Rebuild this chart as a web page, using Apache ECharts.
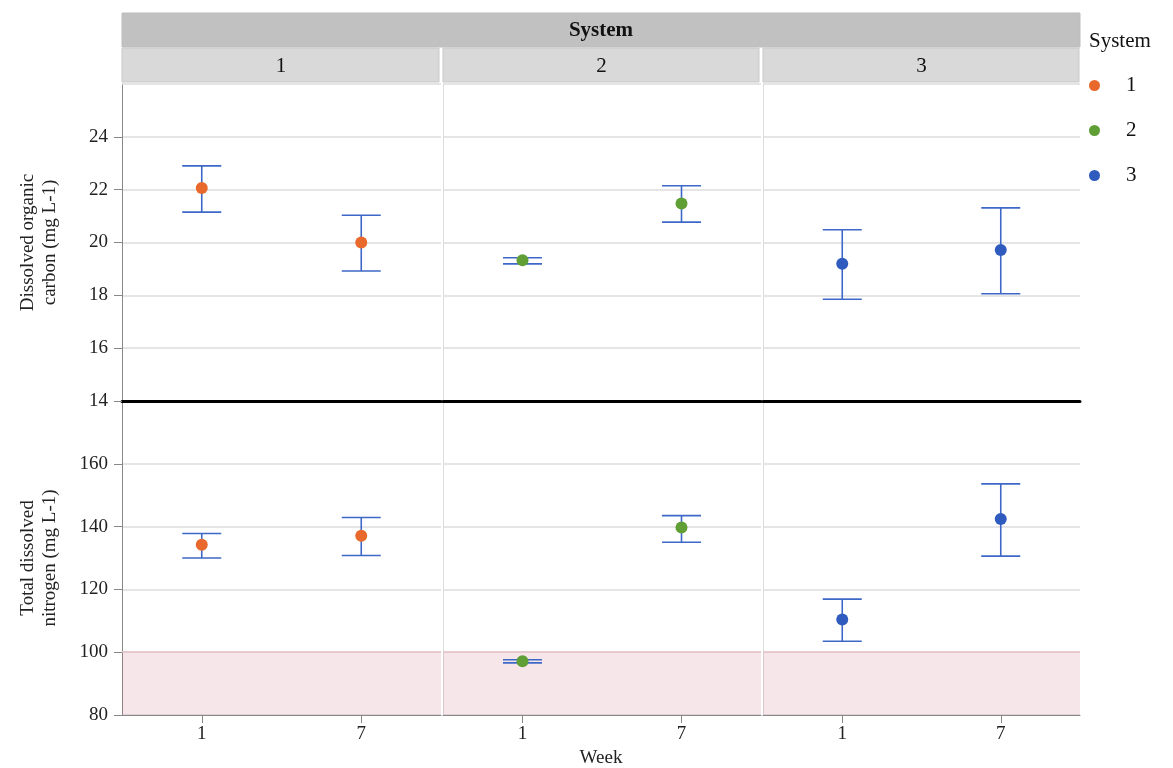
<!DOCTYPE html>
<html>
<head>
<meta charset="utf-8">
<title>Dissolved organic carbon and total dissolved nitrogen by system and week</title>
<script src="https://cdn.jsdelivr.net/npm/echarts@6/dist/echarts.min.js"></script>
<style>
  html, body { margin: 0; padding: 0; background: #ffffff; }
  #chart { width: 1173px; height: 768px; }
</style>
</head>
<body>
<div id="chart"></div>
<script>
// Categories
const weeks = ['1', '7'];
const systems = ['1', '2', '3'];

// Dissolved organic carbon (mg L-1): per system, values for week 1 and week 7
const docMean  = [[22.06, 20.00], [19.33, 21.48], [19.20, 19.72]];
const docLower = [[21.15, 18.92], [19.19, 20.77], [17.85, 18.06]];
const docUpper = [[22.90, 21.03], [19.42, 22.15], [20.48, 21.31]];

// Total dissolved nitrogen (mg L-1)
const tdnMean  = [[134.2, 137.1], [97.1, 139.7], [110.4, 142.4]];
const tdnLower = [[130.0, 130.8], [96.6, 135.0], [103.5, 130.6]];
const tdnUpper = [[137.8, 142.9], [97.6, 143.5], [116.9, 153.6]];

// Axis ticks
const docTicks = [14, 16, 18, 20, 22, 24];
const tdnTicks = [80, 100, 120, 140, 160];
const docRange = [14, 26];
const tdnRange = [80, 180];
const tdnBand = [80, 100];

const systemColors = ['#e8692b', '#5f9f35', '#2f5bbf'];
const barColor = '#3d68c7';
const FONT = '"Liberation Serif", "DejaVu Serif", serif';

const colLeft = [122, 443, 763];
const colWidth = [319, 318, 317];
const rowTop = [84, 401];
const rowHeight = [317, 314];

const grids = [], xAxes = [], yAxes = [], series = [];

function errorBarRender(params, api) {
  const x = api.value(0);
  const lo = api.coord([x, api.value(1)]);
  const hi = api.coord([x, api.value(2)]);
  const half = 19.5;
  const style = { stroke: barColor, lineWidth: 1.6 };
  return {
    type: 'group',
    children: [
      { type: 'line', shape: { x1: lo[0], y1: lo[1], x2: hi[0], y2: hi[1] }, style },
      { type: 'line', shape: { x1: lo[0] - half, y1: lo[1], x2: lo[0] + half, y2: lo[1] }, style },
      { type: 'line', shape: { x1: hi[0] - half, y1: hi[1], x2: hi[0] + half, y2: hi[1] }, style }
    ]
  };
}

const rows = [
  { mean: docMean, lower: docLower, upper: docUpper, range: docRange, ticks: docTicks,
    name: 'Dissolved organic\ncarbon (mg L-1)' },
  { mean: tdnMean, lower: tdnLower, upper: tdnUpper, range: tdnRange, ticks: tdnTicks,
    name: 'Total dissolved\nnitrogen (mg L-1)' }
];

rows.forEach((row, r) => {
  systems.forEach((sys, c) => {
    const idx = grids.length;
    grids.push({ left: colLeft[c], top: rowTop[r], width: colWidth[c], height: rowHeight[r], containLabel: false });

    const isBottom = r === 1;
    xAxes.push({
      type: 'category',
      gridIndex: idx,
      data: weeks,
      boundaryGap: true,
      axisLine: isBottom
        ? { show: true, lineStyle: { color: '#888888', width: 1 } }
        : { show: true, lineStyle: { color: '#000000', width: 3 } },
      axisTick: { show: isBottom, alignWithLabel: true, length: 8, lineStyle: { color: '#888888' } },
      axisLabel: { show: isBottom, fontFamily: FONT, fontSize: 19, color: '#222222', margin: 10 },
      splitLine: { show: false }
    });

    yAxes.push({
      type: 'value',
      gridIndex: idx,
      min: row.range[0],
      max: row.range[1],
      interval: r === 0 ? 2 : 20,
      name: c === 0 ? row.name : '',
      nameLocation: 'middle',
      nameRotate: 90,
      nameGap: 61,
      nameTextStyle: { fontFamily: FONT, fontSize: 19, color: '#222222', lineHeight: 22, align: 'center' },
      axisLine: { show: true, lineStyle: { color: c === 0 ? '#888888' : '#dddddd', width: 1 } },
      axisTick: { show: c === 0, length: 8, lineStyle: { color: '#888888' }, customValues: row.ticks },
      axisLabel: { show: c === 0, fontFamily: FONT, fontSize: 19, color: '#222222', margin: 14, customValues: row.ticks },
      splitLine: { show: true, lineStyle: { color: '#dddddd', width: 1.5 } }
    });

    const bars = weeks.map((w, i) => [i, row.lower[c][i], row.upper[c][i]]);
    const errSeries = {
      type: 'custom',
      name: sys + '-err',
      xAxisIndex: idx,
      yAxisIndex: idx,
      renderItem: errorBarRender,
      encode: { x: 0, y: [1, 2] },
      data: bars,
      z: 3,
      silent: true
    };
    if (isBottom) {
      errSeries.markArea = {
        silent: true,
        itemStyle: { color: 'rgba(205,105,122,0.17)', borderWidth: 0 },
        data: [[{ yAxis: tdnBand[0] }, { yAxis: tdnBand[1] }]]
      };
      errSeries.markLine = {
        silent: true,
        symbol: 'none',
        label: { show: false },
        lineStyle: { color: '#e6c3c9', type: 'solid', width: 1.5 },
        data: [{ yAxis: tdnBand[1] }]
      };
    } else {
      // light rule along the top edge of the upper panels
      errSeries.markLine = {
        silent: true,
        symbol: 'none',
        label: { show: false },
        lineStyle: { color: '#dddddd', type: 'solid', width: 1.5 },
        data: [{ yAxis: row.range[1] }]
      };
    }
    series.push(errSeries);

    series.push({
      type: 'scatter',
      name: sys,
      xAxisIndex: idx,
      yAxisIndex: idx,
      symbol: 'circle',
      symbolSize: 12,
      itemStyle: { color: systemColors[c], opacity: 1 },
      data: weeks.map((w, i) => [i, row.mean[c][i]]),
      z: 5
    });
  });
});

const headerChildren = [
  { type: 'rect', shape: { x: 122, y: 13, width: 958, height: 34 },
    style: { fill: '#c1c1c1', stroke: '#bdbdbd', lineWidth: 1 } },
  { type: 'text', x: 601, y: 31,
    style: { text: 'System', fill: '#111111', font: 'bold 21px ' + FONT, textAlign: 'center', textVerticalAlign: 'middle' } }
];
const stripX = [122, 443, 763], stripW = [318, 317, 317];
systems.forEach((s, c) => {
  headerChildren.push({ type: 'rect', shape: { x: stripX[c], y: 48, width: stripW[c] - 1, height: 34 },
    style: { fill: '#d9d9d9', stroke: '#c9c9c9', lineWidth: 1 } });
  headerChildren.push({ type: 'text', x: stripX[c] + stripW[c] / 2, y: 66,
    style: { text: s, fill: '#111111', font: '21px ' + FONT, textAlign: 'center', textVerticalAlign: 'middle' } });
});
headerChildren.push({ type: 'text', x: 601, y: 758,
  style: { text: 'Week', fill: '#222222', font: '19px ' + FONT, textAlign: 'center', textVerticalAlign: 'middle' } });
headerChildren.push({ type: 'text', x: 1089, y: 41,
  style: { text: 'System', fill: '#111111', font: '21px ' + FONT, textAlign: 'left', textVerticalAlign: 'middle' } });

const chart = echarts.init(document.getElementById('chart'), null, { renderer: 'canvas' });
chart.setOption({
  backgroundColor: '#ffffff',
  animation: false,
  grid: grids,
  xAxis: xAxes,
  yAxis: yAxes,
  legend: {
    orient: 'vertical',
    left: 1089,
    top: 75,
    padding: 0,
    data: systems.map((s, c) => ({ name: s, itemStyle: { color: systemColors[c] } })),
    icon: 'circle',
    itemWidth: 11,
    itemHeight: 11,
    itemGap: 24,
    textStyle: { fontFamily: FONT, fontSize: 21, color: '#111111', lineHeight: 21, padding: [0, 0, 0, 21] },
    selectedMode: false
  },
  graphic: { elements: headerChildren },
  series: series
});
</script>
</body>
</html>
